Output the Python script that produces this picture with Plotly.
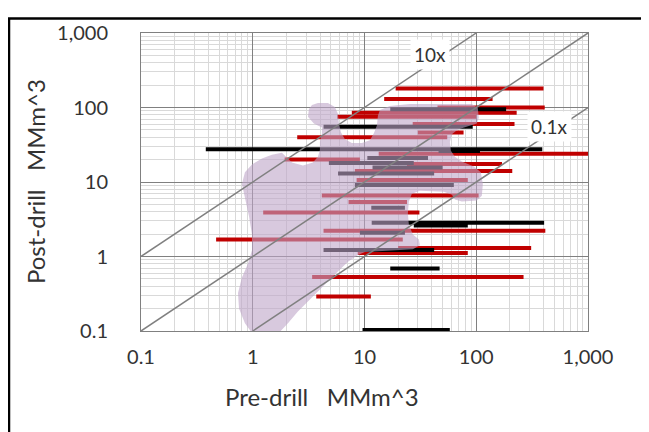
import plotly.graph_objects as go
import numpy as np

# ---- data: horizontal ranges (pre-drill low/high) at a post-drill volume ----
post = [180, 130, 100, 95, 85, 75, 60, 55, 46, 40,
        27.5, 26, 24, 20, 21, 18, 17.5, 15.6, 14, 13,
        10.6, 9.1, 6.6, 5.4, 4.5, 3.9, 2.83, 2.6, 2.22, 2.09,
        1.69, 1.30, 1.22, 1.11, 0.69, 0.53, 0.29, 0.103]
pre_low = [19, 15, 45, 17, 7.7, 5.7, 27, 4.3, 30, 2.5,
           0.38, 46, 13.4, 1.93, 10.6, 4.8, 24, 11.8, 8.2, 5.8,
           8.5, 8.2, 4.15, 7.2, 11.5, 1.24, 11.6, 27.6, 4.3, 9.1,
           0.47, 20, 4.3, 8.7, 17, 3.4, 3.7, 9.6]
pre_high = [400, 140, 410, 185, 230, 100, 220, 93, 77, 55,
            390, 108, 1000, 9.1, 37, 27.6, 170, 50, 210, 42,
            84, 63, 105, 24, 23, 31, 405, 84, 415, 23,
            22, 310, 42, 84, 47, 265, 11.4, 58]
kind = ['red', 'red', 'red', 'black', 'red', 'red', 'red', 'black', 'red', 'red',
        'black', 'black', 'red', 'red', 'black', 'black', 'red', 'black', 'red', 'black',
        'red', 'black', 'red', 'red', 'black', 'red', 'black', 'black', 'red', 'black',
        'red', 'red', 'black', 'red', 'black', 'red', 'red', 'black']

# ---- data: outline of the shaded region (log10 of pre-drill, log10 of post-drill) ----
blob_log_pre = [0.583, 0.673, 0.735, 0.762, 0.771, 0.789, 0.825, 0.887, 0.977, 1.048,
                1.084, 1.111, 1.120, 1.138, 1.227, 1.406, 1.764, 1.961, 2.014, 2.023,
                2.005, 1.925, 1.835, 1.782, 1.764, 1.773, 1.809, 1.871, 1.979, 2.041,
                2.059, 2.050, 2.005, 1.871, 1.809, 1.782, 1.710, 1.496, 1.424, 1.397,
                1.388, 1.397, 1.433, 1.487, 1.496, 1.433, 1.299, 1.138, 1.004, 0.941,
                0.852, 0.744, 0.619, 0.512, 0.404, 0.315, 0.234, 0.172, 0.082, -0.007,
                -0.070, -0.123, -0.132, -0.097, -0.043, -0.007, -0.007, -0.034, -0.070, -0.097,
                -0.070, -0.007, 0.082, 0.172, 0.261, 0.297, 0.351, 0.449, 0.538, 0.583,
                0.601, 0.601, 0.619, 0.619, 0.547, 0.494, 0.503, 0.530]
blob_log_post = [2.059, 2.059, 2.007, 1.915, 1.784, 1.667, 1.575, 1.523, 1.523, 1.562,
                 1.654, 1.758, 1.889, 1.967, 2.020, 2.046, 2.046, 2.046, 1.993, 1.863,
                 1.784, 1.745, 1.706, 1.641, 1.536, 1.418, 1.340, 1.275, 1.209, 1.131,
                 0.974, 0.817, 0.752, 0.739, 0.765, 0.830, 0.869, 0.882, 0.843, 0.739,
                 0.582, 0.425, 0.294, 0.229, 0.150, 0.098, 0.085, 0.072, 0.059, 0.020,
                 -0.072, -0.229, -0.412, -0.569, -0.739, -0.895, -1.026, -1.105, -1.092, -1.026,
                 -0.895, -0.699, -0.490, -0.281, -0.098, 0.085, 0.294, 0.542, 0.778, 0.974,
                 1.131, 1.235, 1.314, 1.366, 1.392, 1.340, 1.261, 1.222, 1.261, 1.340,
                 1.431, 1.536, 1.654, 1.732, 1.784, 1.876, 1.980, 2.033]

ratios = [10, 1, 0.1]

tick_vals = [0.1, 1, 10, 100, 1000]
tick_text = ['0.1', '1', '10', '100', '1,000']

# ---- styles ----
seg_colors = {'red': '#C00000', 'black': '#000000'}
FONT = 'Lato'
TXT = '#333333'

fig = go.Figure()

for k in ['red', 'black']:
    xs, ys = [], []
    for p, lo, hi, kk in zip(post, pre_low, pre_high, kind):
        if kk != k:
            continue
        xs += [lo, hi, None]
        ys += [p, p, None]
    fig.add_trace(go.Scatter(x=xs, y=ys, mode='lines',
                             line=dict(color=seg_colors[k], width=4),
                             hoverinfo='skip', showlegend=False))

fig.add_trace(go.Scatter(x=[10 ** v for v in blob_log_pre],
                         y=[10 ** v for v in blob_log_post],
                         mode='lines', fill='toself',
                         fillcolor='rgba(190,165,200,0.6)',
                         line=dict(width=0, color='rgba(0,0,0,0)'),
                         hoverinfo='skip', showlegend=False))

for r in ratios:
    x0 = max(0.1, 0.1 / r)
    x1 = min(1000, 1000 / r)
    fig.add_trace(go.Scatter(x=[x0, x1], y=[x0 * r, x1 * r], mode='lines',
                             line=dict(color='#808080', width=1.5),
                             hoverinfo='skip', showlegend=False))

# diagonal labels (annotation positions in log10 units)
fig.add_annotation(x=1.585, y=2.712, xref='x', yref='y', text='10x', showarrow=False,
                   bgcolor='white', borderpad=3,
                   font=dict(family=FONT, size=19, color=TXT))
fig.add_annotation(x=2.655, y=1.745, xref='x', yref='y', text='0.1x', showarrow=False,
                   bgcolor='white', borderpad=3,
                   font=dict(family=FONT, size=19, color=TXT))

# axis titles
fig.add_annotation(x=0.405, y=-0.219, xref='paper', yref='paper',
                   xanchor='center', yanchor='middle',
                   text='Pre-drill\u00a0\u00a0\u00a0MMm^3', showarrow=False,
                   font=dict(family=FONT, size=24, color=TXT))
fig.add_annotation(x=-0.237, y=0.5, xref='paper', yref='paper', textangle=-90,
                   xanchor='center', yanchor='middle',
                   text='Post-drill\u00a0\u00a0\u00a0MMm^3', showarrow=False,
                   font=dict(family=FONT, size=24, color=TXT))

# outer frame
fig.add_shape(type='rect', xref='paper', yref='paper',
              x0=-0.2953, x1=1.1253, y0=-0.40, y1=1.049,
              line=dict(color='black', width=2.5), fillcolor='rgba(0,0,0,0)')

axis_common = dict(type='log', range=[-1, 3], tickmode='array',
                   tickvals=tick_vals, ticktext=tick_text,
                   showgrid=True, gridcolor='#808080', gridwidth=1,
                   minor=dict(dtick='D1', showgrid=True, gridcolor='#d9d9d9', gridwidth=1, ticks=''),
                   showline=True, linecolor='#808080', linewidth=1, mirror=True,
                   zeroline=False, ticks='',
                   tickfont=dict(family=FONT, size=20, color=TXT))

# page body adds an 8 px offset, margins compensate for it
fig.update_layout(width=641, height=424, autosize=False,
                  margin=dict(l=133, r=61, t=17, b=101),
                  paper_bgcolor='white', plot_bgcolor='white',
                  xaxis=dict(axis_common, ticklabelstandoff=8),
                  yaxis=dict(axis_common, ticklabelstandoff=28),
                  showlegend=False)

fig.write_html('out.html')
